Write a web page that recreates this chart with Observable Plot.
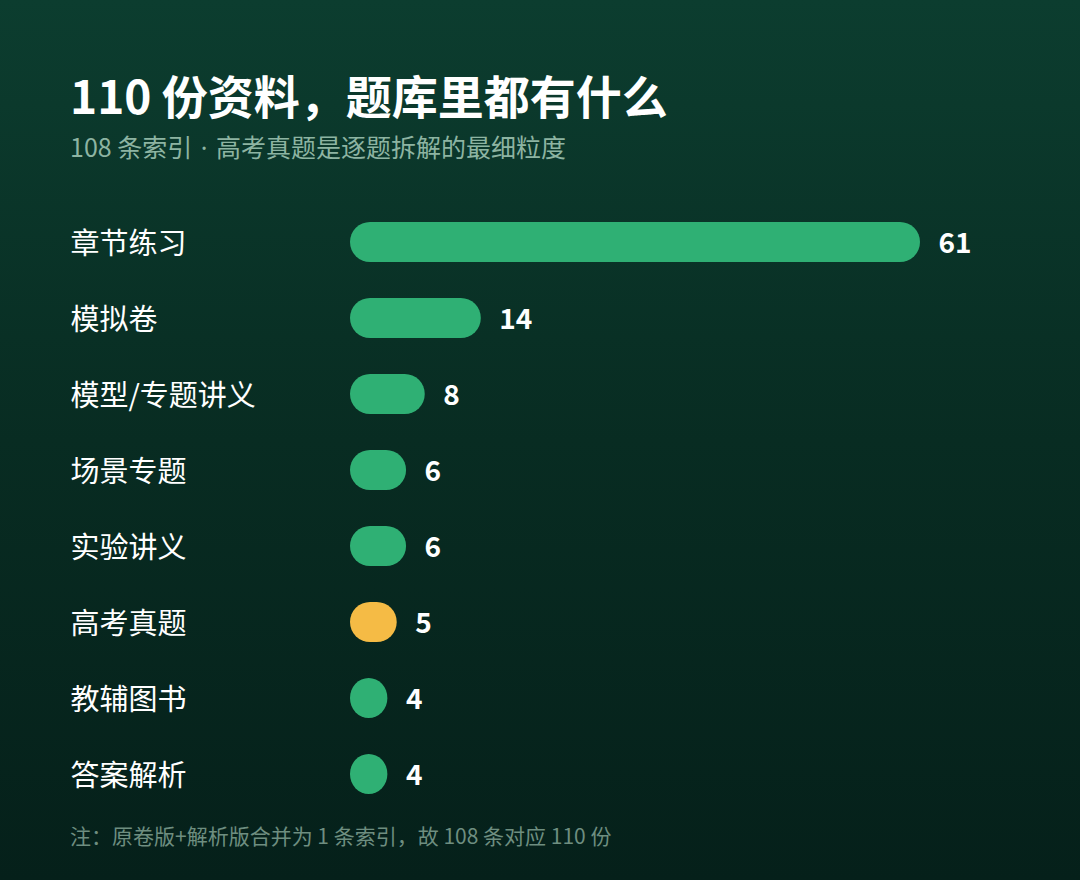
<!DOCTYPE html>
<html>
<head>
<meta charset="utf-8">
<script src="https://cdn.jsdelivr.net/npm/d3@7"></script>
<script src="https://cdn.jsdelivr.net/npm/@observablehq/plot@0.6"></script>
<style>
  html, body { margin: 0; padding: 0; }
  body { width: 1080px; height: 880px; overflow: hidden; font-family: "Noto Sans CJK SC", "Noto Sans", sans-serif; }
  #wrap { position: relative; width: 1080px; height: 880px; background: linear-gradient(180deg, #0c3d2f 0%, #082c22 50%, #05201a 100%); }
  #title { position: absolute; left: 70px; top: 71px; margin: 0; font-size: 46px; line-height: 1; font-weight: 700; color: #ffffff; }
  #subtitle { position: absolute; left: 70px; top: 134px; margin: 0; font-size: 25px; line-height: 1; color: #8db4a2; font-family: "Noto Sans CJK SC", sans-serif; }
  #subtitle .dot { font-family: "Noto Sans", sans-serif; padding: 0 2px; }
  #chart { position: absolute; left: 0; top: 180px; }
  #note { position: absolute; left: 70px; top: 825px; margin: 0; font-size: 21px; line-height: 1; color: #6e8e80; }
</style>
</head>
<body>
<div id="wrap">
  <h1 id="title">110 份资料，题库里都有什么</h1>
  <div id="subtitle">108 条索引<span class="dot"> · </span>高考真题是逐题拆解的最细粒度</div>
  <div id="chart"></div>
  <div id="note">注：原卷版+解析版合并为 1 条索引，故 108 条对应 110 份</div>
</div>
<script>
const categories = ["章节练习", "模拟卷", "模型/专题讲义", "场景专题", "实验讲义", "高考真题", "教辅图书", "答案解析"];
const counts = [61, 14, 8, 6, 6, 5, 4, 4];
const highlight = "高考真题";

const data = categories.map((c, i) => ({category: c, count: counts[i]}));

const chart = Plot.plot({
  width: 1080,
  height: 640,
  marginTop: 24,
  marginBottom: 8,
  marginLeft: 350,
  marginRight: 160,
  style: {background: "transparent", fontFamily: "'Noto Sans CJK SC', sans-serif", overflow: "visible"},
  x: {domain: [0, 61], axis: null},
  y: {domain: categories, paddingInner: 0.474, paddingOuter: 0.237, label: null},
  marks: [
    Plot.axisY({tickSize: 0, tickPadding: 280, textAnchor: "start", fontSize: 29, dy: 2, fill: "#ffffff", label: null}),
    Plot.barX(data, {
      y: "category",
      x: "count",
      rx: 20,
      fill: d => d.category === highlight ? "#f5bb45" : "#2fb074"
    }),
    Plot.text(data, {
      y: "category",
      x: "count",
      text: d => String(d.count),
      dx: 18,
      dy: 2,
      textAnchor: "start",
      fontSize: 28,
      fontWeight: 700,
      fill: "#ffffff"
    })
  ]
});
document.getElementById("chart").appendChild(chart);
</script>
</body>
</html>
